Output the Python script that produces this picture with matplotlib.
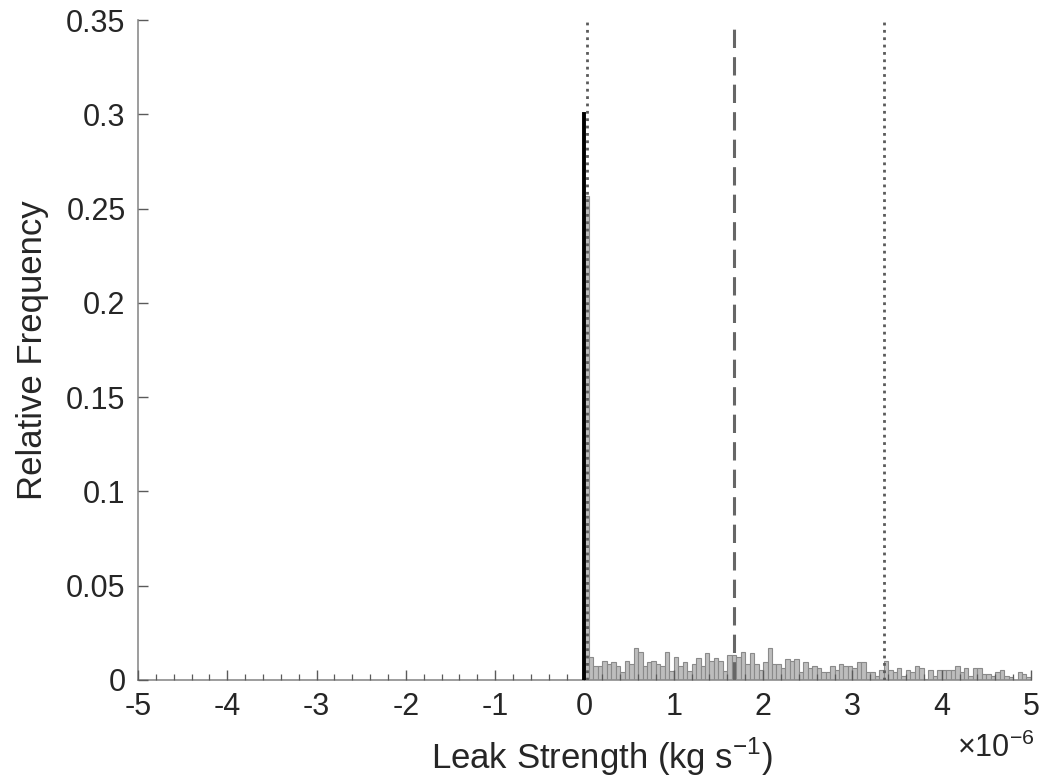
import numpy as np
import matplotlib
matplotlib.use("Agg")
import matplotlib.pyplot as plt
from matplotlib.ticker import MultipleLocator, FuncFormatter

plt.rcParams['font.family'] = ['Liberation Sans', 'DejaVu Sans']
plt.rcParams['axes.unicode_minus'] = False
plt.rcParams['mathtext.fontset'] = 'custom'
plt.rcParams['mathtext.rm'] = 'Liberation Sans'

# histogram of leak strength, units of 1e-6 kg/s, bins of 0.05e-6 from 0 to 5e-6
binWidth = 0.05
binLeft = np.arange(100) * binWidth
relFreq = [0.257, 0.012, 0.0074, 0.0074, 0.010, 0.0085, 0.0094, 0.0074, 0.0041, 0.010,
           0.0085, 0.0172, 0.015, 0.0074, 0.0094, 0.010, 0.0085, 0.0074, 0.015, 0.0049,
           0.012, 0.0074, 0.0094, 0.0049, 0.0085, 0.0115, 0.0074, 0.0141, 0.010, 0.0115,
           0.010, 0.0049, 0.0133, 0.0133, 0.012, 0.015, 0.0085, 0.0141, 0.0085, 0.0053,
           0.0094, 0.0172, 0.0085, 0.0085, 0.0062, 0.0113, 0.0103, 0.0113, 0.0041, 0.0094,
           0.0062, 0.0074, 0.0062, 0.0041, 0.0041, 0.0074, 0.0053, 0.0085, 0.0074, 0.0074,
           0.0062, 0.0094, 0.0094, 0.0041, 0.0041, 0.0021, 0.0053, 0.0098, 0.0053, 0.0041,
           0.0062, 0.0021, 0.0053, 0.0041, 0.0074, 0.0062, 0.0004, 0.0053, 0.0021, 0.0053,
           0.0053, 0.0053, 0.0053, 0.0074, 0.0041, 0.0062, 0.0021, 0.0062, 0.0062, 0.0033,
           0.0033, 0.0021, 0.0041, 0.0053, 0.0021, 0.0014, 0.0, 0.0041, 0.0033, 0.0014]

truthStrength = 0.0      # true leak (black stem)
truthHeight = 0.3
meanStrength = 1.68      # dashed line
lowerBound = 0.028       # dotted lines
upperBound = 3.35

fig = plt.figure(figsize=(10.4, 7.78), dpi=100)
ax = fig.add_axes([0.1327, 0.126, 0.8586, 0.848])

ax.bar(binLeft, relFreq, width=binWidth, align='edge',
       facecolor='#bdbdbd', edgecolor='#8a8a8a', linewidth=0.8, zorder=2)
ax.plot([truthStrength, truthStrength], [0, truthHeight], color='black', lw=2.8, zorder=4)
ax.axvline(lowerBound, color='#5a5a5a', ls=':', lw=2.0, zorder=3)
ax.axvline(upperBound, color='#5a5a5a', ls=':', lw=2.0, zorder=3)
ax.axvline(meanStrength, color='#666666', ls=(0, (6, 3)), lw=2.2, zorder=3)

ax.set_xlim(-5, 5)
ax.set_ylim(0, 0.35)
ax.xaxis.set_major_locator(MultipleLocator(1))
ax.xaxis.set_minor_locator(MultipleLocator(0.2))
ax.yaxis.set_major_locator(MultipleLocator(0.05))
ax.yaxis.set_major_formatter(FuncFormatter(lambda v, p: '%g' % round(v, 2)))
ax.xaxis.set_major_formatter(FuncFormatter(lambda v, p: '%g' % round(v, 2)))

for s in ['top', 'right']:
    ax.spines[s].set_visible(False)
for s in ['left', 'bottom']:
    ax.spines[s].set_color('#8c8c8c')
    ax.spines[s].set_linewidth(1.2)
ax.tick_params(which='both', direction='in', colors='#5a5a5a', labelcolor='#262626',
               labelsize=22, pad=9)
ax.tick_params(which='major', length=7, width=1.0)
ax.tick_params(which='minor', length=4, width=0.9)
ax.set_axisbelow(False)

ax.set_xlabel('Leak Strength (kg s$^{-1}$)', fontsize=25, color='#262626')
ax.xaxis.set_label_coords(0.52, -0.085)
ax.set_ylabel('Relative Frequency', fontsize=25, color='#262626', labelpad=12)
fig.text(0.995, 0.018, '×10$^{-6}$', fontsize=22, color='#262626', ha='right', va='bottom')

fig.savefig('out.png', dpi=100)
